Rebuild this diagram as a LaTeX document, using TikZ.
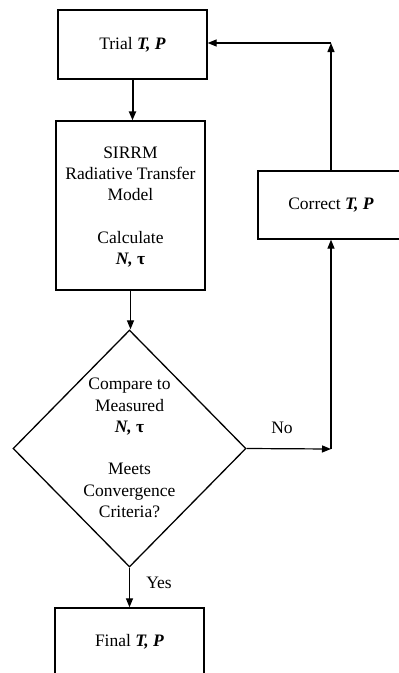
\documentclass[tikz,border=0pt]{standalone}
\usepackage{fontspec}
\setmainfont{Liberation Serif}
\newfontfamily\tnr{Liberation Serif}
\usetikzlibrary{shapes.geometric,arrows.meta}
\begin{document}
\begin{tikzpicture}[x=1pt,y=-1pt,
  box/.style={draw,line width=1.3pt,inner sep=0pt,align=center,font=\tnr\fontsize{17.5}{21.3}\selectfont},
  txt/.style={align=center,inner sep=0pt,font=\tnr\fontsize{17.5}{21.3}\selectfont},
  arr/.style={line width=1.2pt,-{Triangle[length=9pt,width=7pt]}}]
\useasboundingbox (0,0) rectangle (399,673);
\clip (0,0) rectangle (399,673);
\node[box,minimum width=149pt,minimum height=69pt] (trial) at (132.5,44.5) {Trial \textbf{\textit{T, P}}};
\node[box,minimum width=149pt,minimum height=169pt] (sirrm) at (130.5,205.5) {};
\node[txt] (sirrmtext) at (130.5,207) {SIRRM\\Radiative Transfer\\Model\\ \\Calculate\\\textbf{\textit{N,}} \textbf{τ}};
\node[draw,diamond,line width=1.3pt,inner sep=0pt,minimum width=233pt,minimum height=237pt] (diam) at (129.5,448.5) {};
\node[txt] (diamtext) at (129.5,448) {Compare to\\Measured\\\textbf{\textit{N,}} \textbf{τ}\\ \\Meets\\Convergence\\Criteria?};
\node[box,minimum width=149pt,minimum height=68pt] (final) at (129.5,642) {Final \textbf{\textit{T, P}}};
\node[box,minimum width=146pt,minimum height=68pt] (correct) at (331,205) {Correct \textbf{\textit{T, P}}};
\coordinate (corner) at (331,449);
\coordinate (topc) at (331,43);
\draw[arr,line width=2pt] (trial.south) -- (trial.south |- sirrm.north);
\draw[arr] (sirrm.south) -- (sirrm.south |- diam.north);
\draw[arr] (diam.south) -- (diam.south |- final.north);
\draw[arr] (diam.east) -- (corner);
\draw[arr] (corner) -- (correct.south);
\draw[arr] (correct.north) -- (topc);
\draw[arr] (topc) -- (trial.east |- topc);
\node[txt] (no) at (282,428) {No};
\node[txt] (yes) at (159,583) {Yes};
\end{tikzpicture}
\end{document}
